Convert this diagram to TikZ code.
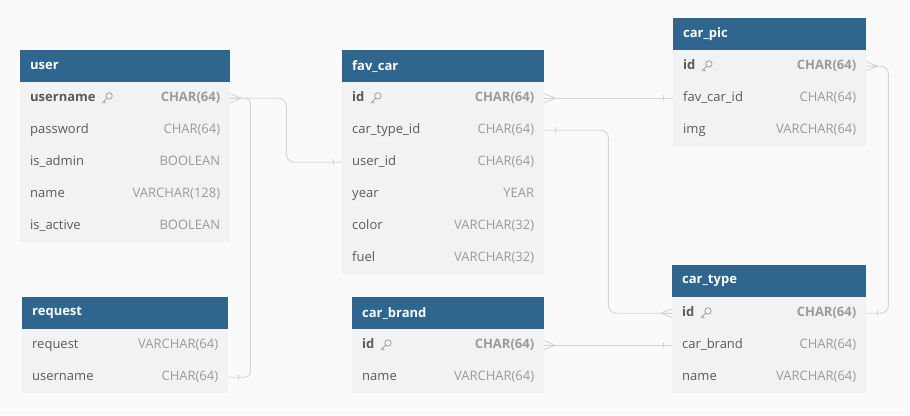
\documentclass[tikz,border=0pt]{standalone}
\usepackage{fontspec}
\setmainfont{Open Sans}
\usepackage{xcolor}

\definecolor{hdrblue}{HTML}{2F6690}
\definecolor{rowgray}{HTML}{F2F2F2}
\definecolor{bggray}{HTML}{FAFAFA}
\definecolor{fldgray}{HTML}{5A5A5A}
\definecolor{typgray}{HTML}{9B9B9B}
\definecolor{relgray}{HTML}{D4D4D4}

\tikzset{
  hdr/.style={rectangle, fill=hdrblue, anchor=north west, minimum height=32pt, inner sep=0pt},
  hdrtxt/.style={anchor=west, text=white, font=\bfseries\fontsize{13}{15}\selectfont, inner xsep=10pt},
  row/.style={rectangle, fill=rowgray, anchor=north west, minimum height=32pt, inner sep=0pt},
  fld/.style={anchor=west, text=fldgray, font=\fontsize{13}{15}\selectfont, inner xsep=10pt, text height=9pt, text depth=3pt},
  typ/.style={fld, anchor=east, text=typgray},
  pk/.style={font=\bfseries\fontsize{13}{15}\selectfont},
  rel/.style={draw=relgray, line width=0.9pt},
  crow/.pic={\draw[rel] (0,-4.5) -- (11,0) -- (0,4.5) (0,0) -- (11,0);},
  onetick/.pic={\draw[rel] (0,-3) -- (0,3);},
  keyicon/.pic={\draw[typgray, line width=0.75pt] (2.3,-2.3) circle (3.2pt);
    \draw[typgray, line width=0.75pt, line cap=round] (0.1,-0.1) -- (-4.8,4.8) (-3.2,3.2) -- (-1.6,4.8);}
}

\begin{document}
\begin{tikzpicture}[x=1pt, y=-1pt]
\fill[bggray] (0,0) rectangle (910,415);

% user
\node[hdr, minimum width=210pt] (user) at (20,50) {};
\node[hdrtxt] at (user.west) {user};
\node[row, minimum width=210pt] (user-1) at (20,82) {};
\node[fld, pk] (user-1f) at (user-1.west) {username};
\node[typ, pk] at (user-1.east) {CHAR(64)};
\pic at ([xshift=1pt]user-1f.east) {keyicon};
\foreach \f/\t [count=\i from 2] in {password/CHAR(64), is\_admin/BOOLEAN, name/VARCHAR(128), is\_active/BOOLEAN} {
  \node[row, minimum width=210pt] (user-\i) at (20,{50+32*\i}) {};
  \node[fld] at (user-\i.west) {\f};
  \node[typ] at (user-\i.east) {\t};
}

% request
\node[hdr, minimum width=206pt] (request) at (22,297) {};
\node[hdrtxt] at (request.west) {request};
\foreach \f/\t [count=\i] in {request/VARCHAR(64), username/CHAR(64)} {
  \node[row, minimum width=206pt] (request-\i) at (22,{297+32*\i}) {};
  \node[fld] at (request-\i.west) {\f};
  \node[typ] at (request-\i.east) {\t};
}

% fav_car
\node[hdr, minimum width=202pt] (favcar) at (342,50) {};
\node[hdrtxt] at (favcar.west) {fav\_car};
\node[row, minimum width=202pt] (favcar-1) at (342,82) {};
\node[fld, pk] (favcar-1f) at (favcar-1.west) {id};
\node[typ, pk] at (favcar-1.east) {CHAR(64)};
\pic at ([xshift=1pt]favcar-1f.east) {keyicon};
\foreach \f/\t [count=\i from 2] in {car\_type\_id/CHAR(64), user\_id/CHAR(64), year/YEAR, color/VARCHAR(32), fuel/VARCHAR(32)} {
  \node[row, minimum width=202pt] (favcar-\i) at (342,{50+32*\i}) {};
  \node[fld] at (favcar-\i.west) {\f};
  \node[typ] at (favcar-\i.east) {\t};
}

% car_brand
\node[hdr, minimum width=192pt] (carbrand) at (352,297) {};
\node[hdrtxt] at (carbrand.west) {car\_brand};
\node[row, minimum width=192pt] (carbrand-1) at (352,329) {};
\node[fld, pk] (carbrand-1f) at (carbrand-1.west) {id};
\node[typ, pk] at (carbrand-1.east) {CHAR(64)};
\pic at ([xshift=1pt]carbrand-1f.east) {keyicon};
\node[row, minimum width=192pt] (carbrand-2) at (352,361) {};
\node[fld] at (carbrand-2.west) {name};
\node[typ] at (carbrand-2.east) {VARCHAR(64)};

% car_pic
\node[hdr, minimum width=193pt] (carpic) at (673,18) {};
\node[hdrtxt] at (carpic.west) {car\_pic};
\node[row, minimum width=193pt] (carpic-1) at (673,50) {};
\node[fld, pk] (carpic-1f) at (carpic-1.west) {id};
\node[typ, pk] at (carpic-1.east) {CHAR(64)};
\pic at ([xshift=1pt]carpic-1f.east) {keyicon};
\foreach \f/\t [count=\i from 2] in {fav\_car\_id/CHAR(64), img/VARCHAR(64)} {
  \node[row, minimum width=193pt] (carpic-\i) at (673,{18+32*\i}) {};
  \node[fld] at (carpic-\i.west) {\f};
  \node[typ] at (carpic-\i.east) {\t};
}

% car_type
\node[hdr, minimum width=194pt] (cartype) at (672,265) {};
\node[hdrtxt] at (cartype.west) {car\_type};
\node[row, minimum width=194pt] (cartype-1) at (672,297) {};
\node[fld, pk] (cartype-1f) at (cartype-1.west) {id};
\node[typ, pk] at (cartype-1.east) {CHAR(64)};
\pic at ([xshift=1pt]cartype-1f.east) {keyicon};
\foreach \f/\t [count=\i from 2] in {car\_brand/CHAR(64), name/VARCHAR(64)} {
  \node[row, minimum width=194pt] (cartype-\i) at (672,{265+32*\i}) {};
  \node[fld] at (cartype-\i.west) {\f};
  \node[typ] at (cartype-\i.east) {\t};
}

% relations
\draw[rel, rounded corners=8pt] (user-1.east) -- ++(56,0) |- (favcar-3.west);
\draw[rel, rounded corners=5pt] (user-1.east) -- ++(20,0) |- (request-2.east);
\draw[rel] (favcar-1.east) -- (carpic-2.west);
\draw[rel, rounded corners=8pt] (favcar-2.east) -- ++(64,0) |- (cartype-1.west);
\draw[rel, rounded corners=8pt] (carpic-1.east) -- ++(22,0) |- (cartype-1.east);
\draw[rel] (carbrand-1.east) -- (cartype-2.west);

\pic at (user-1.east) {crow};
\pic at (favcar-1.east) {crow};
\pic at (carpic-1.east) {crow};
\pic at (carbrand-1.east) {crow};
\pic[rotate=180] at (cartype-1.west) {crow};

\pic at ([xshift=-9pt]favcar-3.west) {onetick};
\pic at ([xshift=10pt]request-2.east) {onetick};
\pic at ([xshift=-10pt]carpic-2.west) {onetick};
\pic at ([xshift=11pt]favcar-2.east) {onetick};
\pic at ([xshift=11pt]cartype-1.east) {onetick};
\pic at ([xshift=-9pt]cartype-2.west) {onetick};
\end{tikzpicture}
\end{document}
